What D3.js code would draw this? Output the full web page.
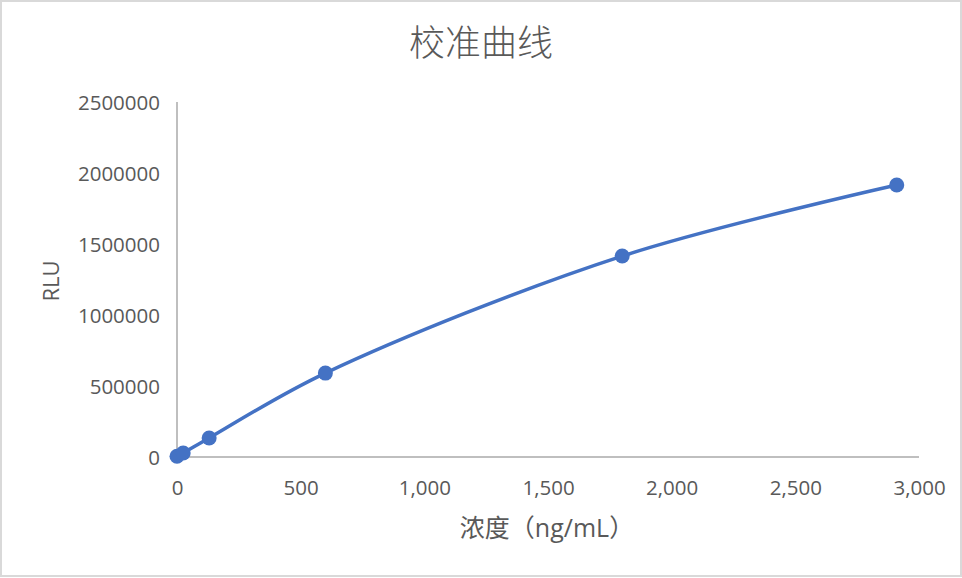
<!DOCTYPE html>
<html><head><meta charset="utf-8">
<script src="https://cdn.jsdelivr.net/npm/d3@7"></script>
<style>html,body{margin:0;padding:0;background:#fff;}svg{display:block;}</style>
</head><body>
<svg id="c" width="962" height="578"></svg>
<script>
const concentrations = [0, 25, 130, 600, 1800, 2910];
const rluValues = [5000, 28000, 134000, 591000, 1415000, 1915000];
const xTicks = [0, 500, 1000, 1500, 2000, 2500, 3000];
const yTicks = [0, 500000, 1000000, 1500000, 2000000, 2500000];
const title = "校准曲线";
const xTitle = "浓度（ng/mL）";
const yTitle = "RLU";

const svg = d3.select("#c");
const W = 962, H = 578;
const font = "'Open Sans','Noto Sans CJK SC',sans-serif";
const txt = "#595959";

svg.append("rect").attr("x",1).attr("y",1).attr("width",W-2).attr("height",H-3)
  .attr("fill","#fff").attr("stroke","#d9d9d9").attr("stroke-width",2);

const x = d3.scaleLinear().domain([0,3000]).range([177,919]);
const y = d3.scaleLinear().domain([0,2500000]).range([457,102]);

svg.append("line").attr("x1",x(0)).attr("x2",x(3000)).attr("y1",y(0)).attr("y2",y(0))
  .attr("stroke","#bfbfbf").attr("stroke-width",2);
svg.append("line").attr("x1",x(0)).attr("x2",x(0)).attr("y1",y(0)).attr("y2",y(2500000))
  .attr("stroke","#bfbfbf").attr("stroke-width",2);

const xAxis = d3.axisBottom(x).tickValues(xTicks).tickFormat(d3.format(",")).tickSize(0).tickPadding(0);
const gx = svg.append("g").attr("transform",`translate(0,${y(0)})`).call(xAxis);
gx.select(".domain").remove();
gx.selectAll("text").attr("dy",0).attr("y",38).attr("font-family",font).attr("font-size",20.5).attr("fill",txt);

const yAxis = d3.axisLeft(y).tickValues(yTicks).tickFormat(d3.format("d")).tickSize(0).tickPadding(0);
const gy = svg.append("g").attr("transform",`translate(${x(0)},0)`).call(yAxis);
gy.select(".domain").remove();
gy.selectAll("text").attr("x",-17).attr("dy","0.35em").attr("font-family",font).attr("font-size",20.5).attr("fill",txt);

const pts = concentrations.map((c,i)=>[c,rluValues[i]]);
const line = d3.line().x(d=>x(d[0])).y(d=>y(d[1])).curve(d3.curveCatmullRom.alpha(0.5));
svg.append("path").datum(pts).attr("d",line).attr("fill","none")
  .attr("stroke","#4472C4").attr("stroke-width",3.5).attr("stroke-linecap","round");
svg.selectAll("circle.pt").data(pts).enter().append("circle").attr("class","pt")
  .attr("cx",d=>x(d[0])).attr("cy",d=>y(d[1])).attr("r",7.5).attr("fill","#4472C4");

svg.append("text").attr("x",481).attr("y",56).attr("text-anchor","middle")
  .attr("font-family",font).attr("font-size",36).attr("font-weight",300).attr("fill",txt).text(title);
svg.append("text").attr("x",547).attr("y",537).attr("text-anchor","middle")
  .attr("font-family",font).attr("font-size",25).attr("fill",txt).text(xTitle);
svg.append("text").attr("transform","translate(59,281) rotate(-90)").attr("text-anchor","middle")
  .attr("font-family",font).attr("font-size",22).attr("fill",txt).text(yTitle);
</script>
</body></html>
